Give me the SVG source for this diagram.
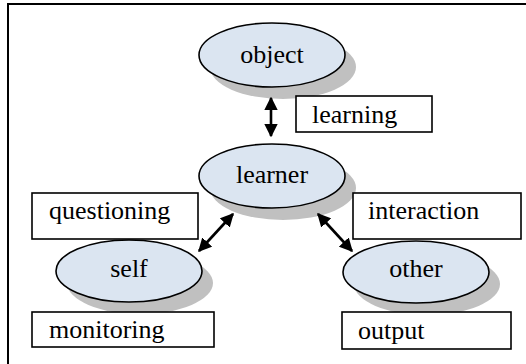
<svg xmlns="http://www.w3.org/2000/svg" width="526" height="364" viewBox="0 0 526 364">
<defs>
<style>
.shadow{fill:#c0c0c0;stroke:none}
.ell{fill:#dbe5f1;stroke:#000;stroke-width:1.6}
.box{fill:#fff;stroke:#000;stroke-width:1.6}
text{font-family:'Liberation Serif','Times New Roman',serif;font-size:26px;fill:#000}
.c{text-anchor:middle}
.conn{stroke:#000;stroke-width:2.6;fill:none;marker-start:url(#ah);marker-end:url(#ah)}
</style>
<marker id="ah" viewBox="0 0 10 10" refX="9" refY="5" markerWidth="5.2" markerHeight="5.2" orient="auto-start-reverse" markerUnits="strokeWidth">
<path d="M0,0 L10,5 L0,10 Z" fill="#000"/>
</marker>
</defs>
<rect width="526" height="364" fill="#fff"/>
<rect x="8" y="4" width="540" height="380" fill="none" stroke="#000" stroke-width="2"/>

<g id="object">
<ellipse class="shadow" cx="283" cy="67" rx="73" ry="32"/>
<ellipse class="ell" cx="272" cy="55" rx="73" ry="32"/>
<text class="c" x="272" y="63">object</text>
</g>
<g id="learner">
<ellipse class="shadow" cx="283" cy="188" rx="73" ry="32"/>
<ellipse class="ell" cx="272" cy="176" rx="73" ry="32"/>
<text class="c" x="272" y="183">learner</text>
</g>
<g id="self">
<ellipse class="shadow" cx="140" cy="283" rx="73" ry="31"/>
<ellipse class="ell" cx="129" cy="271" rx="73" ry="31"/>
<text class="c" x="129" y="277">self</text>
</g>
<g id="other">
<ellipse class="shadow" cx="427" cy="284" rx="73" ry="31"/>
<ellipse class="ell" cx="416" cy="272" rx="73" ry="31"/>
<text class="c" x="416" y="277">other</text>
</g>

<g id="learning">
<rect class="box" x="296" y="96" width="136" height="36"/>
<text x="312" y="123">learning</text>
</g>
<g id="questioning">
<rect class="box" x="32" y="193" width="166" height="46"/>
<text x="49" y="219">questioning</text>
</g>
<g id="interaction">
<rect class="box" x="353" y="193" width="168" height="46"/>
<text x="368" y="219">interaction</text>
</g>
<g id="monitoring">
<rect class="box" x="32" y="312" width="182" height="35"/>
<text x="49" y="338">monitoring</text>
</g>
<g id="output">
<rect class="box" x="342" y="312" width="169" height="37"/>
<text x="358" y="339">output</text>
</g>

<g id="connectors">
<line class="conn" x1="271" y1="98" x2="271" y2="136"/>
<line class="conn" x1="233" y1="214" x2="199" y2="251"/>
<line class="conn" x1="318" y1="214" x2="352" y2="251"/>
</g>
</svg>
